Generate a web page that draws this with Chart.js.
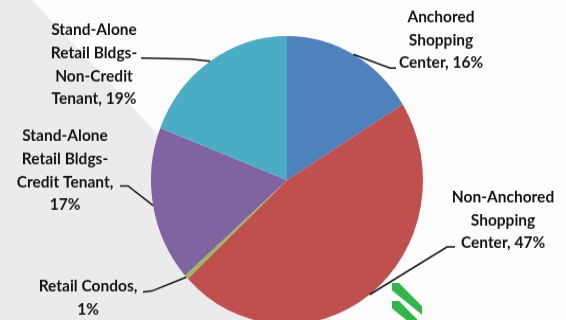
<!DOCTYPE html>
<html lang="en">

<head>
    <meta charset="UTF-8">
    <title>Retail Property Mix</title>
    <script src="https://cdn.jsdelivr.net/npm/chart.js"></script>
    <style>
        html, body { margin: 0; padding: 0; background: #ffffff; }
        body { width: 566px; height: 320px; overflow: hidden; }
        /* the source picture is slightly stretched vertically */
        #wrap { width: 566px; height: 320px; transform-origin: 0 0; transform: scaleY(1.0596); }
    </style>
</head>

<body>
    <div id="wrap">
        <canvas id="pieChart" width="566" height="320"></canvas>
    </div>

    <script>
        const categories = [
            "Anchored Shopping Center",
            "Non-Anchored Shopping Center",
            "Retail Condos",
            "Stand-Alone Retail Bldgs-Credit Tenant",
            "Stand-Alone Retail Bldgs-Non-Credit Tenant"
        ];
        const shares = [16.2, 46.8, 0.5, 17.4, 19.1];
        const labelLines = [
            ["Anchored", "Shopping", "Center, 16%"],
            ["Non-Anchored", "Shopping", "Center, 47%"],
            ["Retail Condos,", "1%"],
            ["Stand-Alone", "Retail Bldgs-", "Credit Tenant,", "17%"],
            ["Stand-Alone", "Retail Bldgs-", "Non-Credit", "Tenant, 19%"]
        ];
        const colors = ["#4f81bd", "#c0504d", "#9bbb59", "#8064a2", "#4bacc6"];

        // label text centre / first line, and leader elbow + end (canvas px)
        const labelLayout = [
            { x: 441, y: 16, bend: [390, 64.2], end: [396, 64.2] },
            { x: 503, y: 186, bend: [447, 233], end: [455, 233] },
            { x: 88, y: 270, bend: [152, 274.6], end: [143, 275.4] },
            { x: 65, y: 128.3, bend: [128, 175.5], end: [120, 175.5] },
            { x: 94, y: 28.3, bend: [190, 55.7], end: [141, 54.7] }
        ];
        const lineHeight = 21.7;

        const backdrop = {
            id: "backdrop",
            beforeDraw(chart) {
                const ctx = chart.ctx;
                ctx.save();
                ctx.fillStyle = "#fdfdfd";
                ctx.fillRect(0, 0, chart.width, chart.height);
                ctx.fillStyle = "#ebebeb";
                ctx.beginPath();
                ctx.moveTo(0, 0);
                ctx.lineTo(32, 0);
                ctx.lineTo(350, 320);
                ctx.lineTo(0, 320);
                ctx.closePath();
                ctx.fill();
                // bits of the green logo in the corner
                ctx.fillStyle = "#2fb54a";
                [[392, 267], [392, 284]].forEach(([x0, y0]) => {
                    ctx.beginPath();
                    ctx.moveTo(x0, y0);
                    ctx.lineTo(x0 + 7, y0);
                    ctx.lineTo(x0 + 30, y0 + 22);
                    ctx.lineTo(x0 + 30, y0 + 30);
                    ctx.lineTo(x0, y0 + 7);
                    ctx.closePath();
                    ctx.fill();
                });
                ctx.restore();
            }
        };

        const sliceLabels = {
            id: "sliceLabels",
            afterDraw(chart) {
                const ctx = chart.ctx;
                const arcs = chart.getDatasetMeta(0).data;
                ctx.save();
                ctx.strokeStyle = "#161616";
                ctx.lineWidth = 1.5;
                arcs.forEach((arc, i) => {
                    const p = arc.getProps(["x", "y", "startAngle", "endAngle", "outerRadius"], true);
                    const mid = (p.startAngle + p.endAngle) / 2;
                    const ex = p.x + Math.cos(mid) * p.outerRadius;
                    const ey = p.y + Math.sin(mid) * p.outerRadius;
                    const lay = labelLayout[i];
                    ctx.beginPath();
                    ctx.moveTo(ex, ey);
                    ctx.lineTo(lay.bend[0], lay.bend[1]);
                    ctx.lineTo(lay.end[0], lay.end[1]);
                    ctx.stroke();

                    ctx.fillStyle = "#141414";
                    ctx.font = "bold 15.5px Lato";
                    ctx.textAlign = "center";
                    ctx.textBaseline = "middle";
                    labelLines[i].forEach((line, k) => {
                        ctx.fillText(line, lay.x, lay.y + k * lineHeight);
                    });
                });
                ctx.restore();
            }
        };

        new Chart(document.getElementById("pieChart"), {
            type: "pie",
            data: {
                labels: categories,
                datasets: [{
                    data: shares,
                    backgroundColor: colors,
                    borderWidth: 0,
                    hoverOffset: 0,
                    offset: 0
                }]
            },
            options: {
                responsive: false,
                animation: false,
                events: [],
                layout: { padding: { left: 151, right: 143, top: 34, bottom: 14 } },
                plugins: {
                    legend: { display: false },
                    tooltip: { enabled: false }
                }
            },
            plugins: [backdrop, sliceLabels]
        });
    </script>
</body>

</html>
